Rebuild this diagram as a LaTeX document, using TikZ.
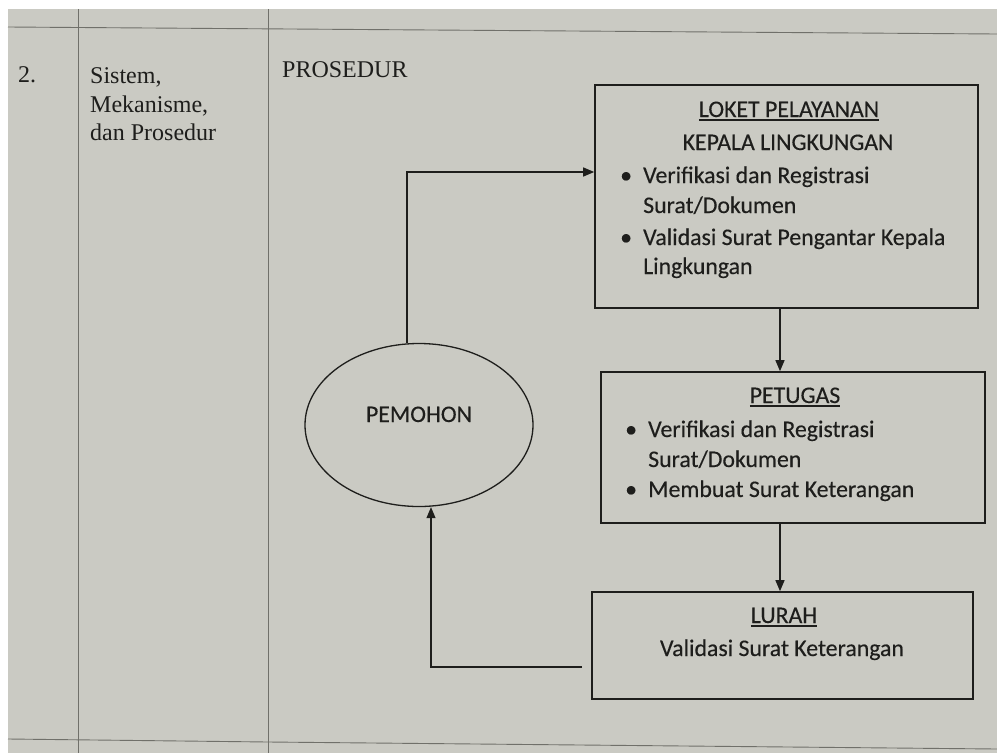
\documentclass[tikz,border=0pt]{standalone}
\usepackage{fontspec}
\setmainfont{Liberation Serif}
\newfontfamily\calfont[FakeBold=0.3]{Carlito}
\usetikzlibrary{arrows.meta,positioning,shapes.geometric}

\definecolor{paper}{RGB}{202,202,195}
\definecolor{ink}{RGB}{30,30,28}
\definecolor{tablerule}{RGB}{112,112,106}

\newcommand{\undl}[1]{\setbox0\hbox{#1}\rlap{\rule[-4pt]{\wd0}{1.6pt}}\box0}
\newcommand{\bul}{\makebox[23pt][l]{\textbullet}}

\begin{document}
\begin{tikzpicture}[x=1pt,y=-1pt,>={Triangle[length=11pt,width=9pt]},
  every node/.style={inner sep=0pt,text=ink},
  procbox/.style={draw=ink,line width=1.6pt,rectangle},
  boxtext/.style={font=\calfont\fontsize{23.8}{30}\selectfont},
  itemline/.style={boxtext,anchor=base west},
  headline/.style={boxtext,anchor=base},
  cell/.style={font=\fontsize{24}{28}\selectfont,anchor=base west},
  flow/.style={draw=ink,line width=1.2pt}]

\useasboundingbox (0,0) rectangle (997,753);

% paper and table rules
\fill[white] (0,0) rectangle (997,753);
\fill[paper] (8,9) rectangle (997,753);
\draw[tablerule,line width=0.9pt] (8,27) -- (997,34);
\draw[tablerule,line width=0.9pt] (78,9) -- (78,753);
\draw[tablerule,line width=0.9pt] (268,9) -- (268,753);
\draw[tablerule,line width=0.9pt] (8,739) -- (268,742) -- (997,749);

% left columns
\node[cell] (num)      at (18,82)  {2.};
\node[cell] (aspect1)  at (90,83)  {Sistem,};
\node[cell] (aspect2)  at (90,112) {Mekanisme,};
\node[cell] (aspect3)  at (90,140) {dan Prosedur};
\node[cell] (prosedur) at (282,77) {PROSEDUR};

% boxes
\node[procbox,minimum width=383pt,minimum height=223pt] (loket)   at (786.5,196.5) {};
\node[procbox,minimum width=384pt,minimum height=151pt] (petugas) at (793,447.5)   {};
\node[procbox,minimum width=381pt,minimum height=107pt] (lurah)   at (782.5,645.5) {};
\node[draw=ink,line width=1.3pt,ellipse,minimum width=228pt,minimum height=163pt] (pemohon) at (419,425) {};

\node[headline] (pemohontxt) at (419,422) {PEMOHON};

\node[headline] (loket1) at (789,117) {\undl{LOKET PELAYANAN}};
\node[headline] (loket2) at (788,150) {KEPALA LINGKUNGAN};
\node[itemline] (loket3) at (620,183) {\bul Verifikasi dan Registrasi};
\node[itemline] (loket4) at (643,213) {Surat/Dokumen};
\node[itemline] (loket5) at (620,245) {\bul Validasi Surat Pengantar Kepala};
\node[itemline] (loket6) at (643,274) {Lingkungan};

\node[headline] (petugas1) at (795,403) {\undl{PETUGAS}};
\node[itemline] (petugas2) at (625,437) {\bul Verifikasi dan Registrasi};
\node[itemline] (petugas3) at (648,467) {Surat/Dokumen};
\node[itemline] (petugas4) at (625,497) {\bul Membuat Surat Keterangan};

\node[headline] (lurah1) at (784,623) {\undl{LURAH}};
\node[headline] (lurah2) at (782,656) {Validasi Surat Keterangan};

% connectors
\coordinate (upturn)   at (407,172);
\coordinate (column)   at (780,0);
\coordinate (backturn) at (431,667);

\draw[flow,->] (pemohon.north -| upturn) -- (upturn) -- (upturn -| loket.west);
\draw[flow,->] (loket.south -| column) -- (petugas.north -| column);
\draw[flow,->] (petugas.south -| column) -- (lurah.north -| column);
\draw[flow,->,shorten <=9pt] (lurah.west |- backturn) -- (backturn) -- (backturn |- pemohon.south);

\end{tikzpicture}
\end{document}
